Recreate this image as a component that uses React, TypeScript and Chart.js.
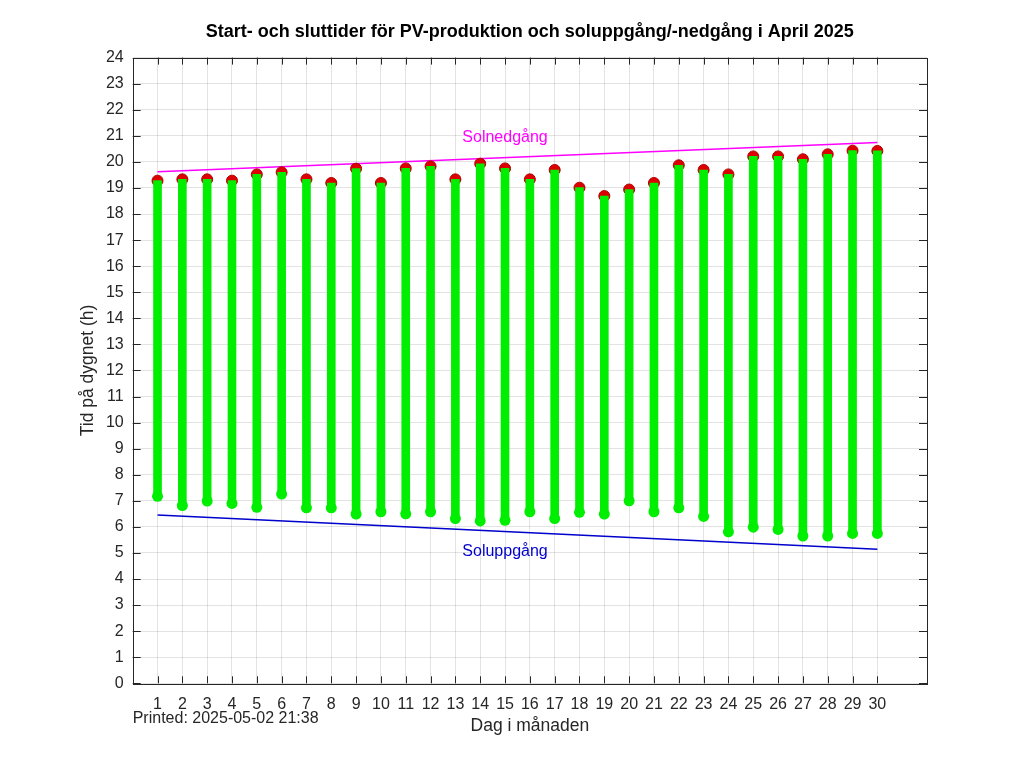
import { useEffect, useRef } from 'react';
import { Chart, registerables, Plugin } from 'chart.js';

Chart.register(...registerables);

const days = [1, 2, 3, 4, 5, 6, 7, 8, 9, 10, 11, 12, 13, 14, 15, 16, 17, 18, 19, 20, 21, 22, 23, 24, 25, 26, 27, 28, 29, 30];

// PV production start / end (hour of day)
const startTimes = [
  7.17, 6.82, 6.99, 6.9, 6.75, 7.26, 6.73, 6.73, 6.49, 6.58,
  6.5, 6.58, 6.32, 6.23, 6.25, 6.58, 6.32, 6.56, 6.49, 7.0,
  6.58, 6.73, 6.4, 5.81, 5.99, 5.9, 5.65, 5.65, 5.75, 5.75,
];
const endTimes = [
  19.28, 19.33, 19.33, 19.28, 19.52, 19.6, 19.33, 19.19, 19.74, 19.19,
  19.75, 19.83, 19.33, 19.93, 19.75, 19.33, 19.69, 19.01, 18.69, 18.94,
  19.19, 19.87, 19.69, 19.52, 20.21, 20.21, 20.1, 20.29, 20.43, 20.42,
];

// sunrise / sunset straight lines (first and last day)
const sunDays = [1, 30];
const sunsetTimes = [19.62, 20.74];
const sunriseTimes = [6.46, 5.14];

const yTicks = [0, 1, 2, 3, 4, 5, 6, 7, 8, 9, 10, 11, 12, 13, 14, 15, 16, 17, 18, 19, 20, 21, 22, 23, 24];

const FONT = '"Liberation Sans", Arial, sans-serif';
const AXIS = '#262626';

// octave-like box, inward ticks, labels and print stamp
const decorPlugin: Plugin = {
  id: 'decor',
  afterDraw(chart) {
    const { ctx, chartArea: a } = chart;
    const xs = chart.scales.x;
    const ys = chart.scales.y;
    ctx.save();
    ctx.strokeStyle = AXIS;
    ctx.lineWidth = 1;
    ctx.beginPath();
    days.forEach((d) => {
      const px = Math.round(xs.getPixelForValue(d)) + 0.5;
      ctx.moveTo(px, a.bottom);
      ctx.lineTo(px, a.bottom - 7);
      ctx.moveTo(px, a.top);
      ctx.lineTo(px, a.top + 7);
    });
    yTicks.forEach((v) => {
      const py = Math.round(ys.getPixelForValue(v)) + 0.5;
      ctx.moveTo(a.left, py);
      ctx.lineTo(a.left + 8, py);
      ctx.moveTo(a.right, py);
      ctx.lineTo(a.right - 8, py);
    });
    ctx.stroke();
    ctx.strokeRect(Math.round(a.left) + 0.5, Math.round(a.top) + 0.5, Math.round(a.right - a.left), Math.round(a.bottom - a.top));

    ctx.font = `16px ${FONT}`;
    ctx.textAlign = 'center';
    ctx.textBaseline = 'middle';
    ctx.fillStyle = '#ff00ff';
    ctx.fillText('Solnedgång', xs.getPixelForValue(15), ys.getPixelForValue(20.92));
    ctx.fillStyle = '#0000cc';
    ctx.fillText('Soluppgång', xs.getPixelForValue(15), ys.getPixelForValue(5.07));

    ctx.fillStyle = AXIS;
    ctx.textAlign = 'left';
    ctx.fillText('Printed: 2025-05-02 21:38', a.left, 719);
    ctx.restore();
  },
};

export default function App() {
  const chartRef = useRef<HTMLCanvasElement>(null);
  const chartInstance = useRef<Chart | null>(null);

  useEffect(() => {
    if (!chartRef.current) return;
    if (chartInstance.current) chartInstance.current.destroy();
    const ctx = chartRef.current.getContext('2d');
    if (!ctx) return;

    chartInstance.current = new Chart(ctx, {
      type: 'bar',
      data: {
        datasets: [
          {
            type: 'bar',
            label: 'PV',
            data: days.map((d, i) => ({ x: d, y: [startTimes[i], endTimes[i]] })) as any,
            backgroundColor: '#00ee00',
            borderWidth: 0,
            barThickness: 8,
            grouped: false,
            order: 1,
          },
          {
            type: 'line',
            label: 'Start',
            data: days.map((d, i) => ({ x: d, y: startTimes[i] })),
            showLine: false,
            pointRadius: 5.5,
            pointBackgroundColor: '#00ee00',
            pointBorderColor: '#00ee00',
            pointBorderWidth: 0,
            order: 0,
          },
          {
            type: 'line',
            label: 'Slut',
            data: days.map((d, i) => ({ x: d, y: endTimes[i] })),
            showLine: false,
            pointRadius: 5.5,
            pointBackgroundColor: '#dd0000',
            pointBorderColor: '#b00000',
            pointBorderWidth: 1,
            order: 2,
          },
          {
            type: 'line',
            label: 'Solnedgång',
            data: sunDays.map((d, i) => ({ x: d, y: sunsetTimes[i] })),
            borderColor: '#ff00ff',
            borderWidth: 1.5,
            pointRadius: 0,
            order: 3,
          },
          {
            type: 'line',
            label: 'Soluppgång',
            data: sunDays.map((d, i) => ({ x: d, y: sunriseTimes[i] })),
            borderColor: '#0000cc',
            borderWidth: 1.5,
            pointRadius: 0,
            order: 3,
          },
        ],
      },
      options: {
        animation: false,
        responsive: true,
        maintainAspectRatio: false,
        layout: { padding: { left: 0, right: 97, top: 0, bottom: 0 } },
        plugins: {
          legend: { display: false },
          tooltip: { enabled: false },
          title: {
            display: true,
            fullSize: false,
            text: 'Start- och sluttider för PV-produktion och soluppgång/-nedgång i April 2025',
            color: '#000',
            font: { family: FONT, size: 18, weight: 'bold', lineHeight: 1.2 },
            padding: { top: 21, bottom: 15 },
          },
        },
        scales: {
          x: {
            type: 'linear',
            offset: false,
            min: 0,
            max: 32,
            afterBuildTicks: (scale) => {
              scale.ticks = days.map((d) => ({ value: d }));
            },
            afterFit: (scale) => {
              scale.height = 84.7;
            },
            ticks: {
              color: AXIS,
              font: { family: FONT, size: 16 },
              padding: 12,
              maxRotation: 0,
              autoSkip: false,
            },
            grid: { color: 'rgba(38,38,38,0.13)', drawTicks: false, offset: false },
            border: { display: false },
            title: {
              display: true,
              text: 'Dag i månaden',
              color: AXIS,
              font: { family: FONT, size: 17.5, lineHeight: 1.2 },
              padding: { top: 0, bottom: 31.5 },
            },
          },
          y: {
            type: 'linear',
            min: 0,
            max: 24,
            afterBuildTicks: (scale) => {
              scale.ticks = yTicks.map((v) => ({ value: v }));
            },
            afterFit: (scale) => {
              scale.width = 132.7;
            },
            ticks: {
              color: AXIS,
              font: { family: FONT, size: 16 },
              padding: 9,
            },
            grid: { color: 'rgba(38,38,38,0.13)', drawTicks: false },
            border: { display: false },
            title: {
              display: true,
              text: 'Tid på dygnet (h)',
              color: AXIS,
              font: { family: FONT, size: 17.5, lineHeight: 1.2 },
              padding: { top: 77.5, bottom: 0 },
            },
          },
        },
      },
      plugins: [decorPlugin],
    });

    return () => {
      if (chartInstance.current) {
        chartInstance.current.destroy();
        chartInstance.current = null;
      }
    };
  }, []);

  return (
    <div style={{ position: 'absolute', left: 0, top: 0, width: 1024, height: 768, background: '#fff' }}>
      <canvas ref={chartRef}></canvas>
    </div>
  );
}
